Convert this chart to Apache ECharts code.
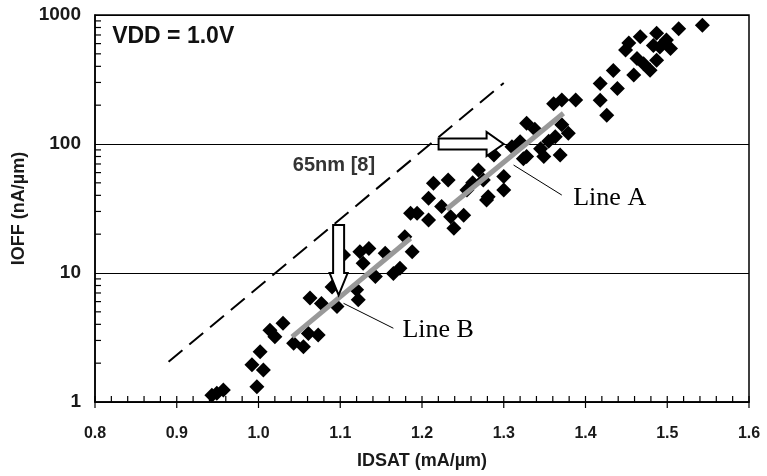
<!DOCTYPE html>
<html>
<head>
<meta charset="utf-8">
<script src="https://cdn.jsdelivr.net/npm/echarts@6/dist/echarts.min.js"></script>
<style>
  html, body { margin: 0; padding: 0; background: #fff; }
  #chart { width: 767px; height: 476px; }
</style>
</head>
<body>
<div id="chart"></div>
<script>
// 測量數據 IDSAT (mA/um) vs IOFF (nA/um)
const idsat = [0.943, 0.949, 0.957, 0.998, 0.992, 1.006, 1.002, 1.014, 1.020, 1.030,
    1.043, 1.055, 1.061, 1.073, 1.063, 1.077, 1.090, 1.096, 1.104, 1.120,
    1.122, 1.124, 1.135, 1.128, 1.143, 1.155, 1.165, 1.173, 1.179, 1.188,
    1.186, 1.194, 1.208, 1.208, 1.214, 1.232, 1.224, 1.239, 1.235, 1.251,
    1.255, 1.262, 1.269, 1.275, 1.279, 1.281, 1.288, 1.300, 1.300, 1.310,
    1.320, 1.324, 1.328, 1.328, 1.338, 1.345, 1.349, 1.355, 1.369, 1.363,
    1.379, 1.371, 1.361, 1.371, 1.388, 1.418, 1.426, 1.418, 1.439, 1.434,
    1.449, 1.453, 1.459, 1.463, 1.467, 1.471, 1.479, 1.487, 1.483, 1.487,
    1.491, 1.499, 1.504, 1.514, 1.543];
const ioff = [1.13, 1.17, 1.24, 1.31, 1.94, 1.77, 2.45, 3.6, 3.2, 4.07,
    2.85, 2.68, 3.4, 3.3, 6.4, 5.8, 7.8, 5.5, 13.8, 7.4,
    6.2, 14.6, 15.5, 11.9, 9.4, 14.2, 9.9, 10.9, 19.1, 14.6,
    29, 29, 25.7, 38, 49.6, 52.6, 32.7, 22.2, 27.3, 28,
    44, 50, 63, 52.6, 36.8, 39, 82, 44, 56, 95,
    104, 77, 80, 145, 130, 92, 80, 105, 82, 114,
    121, 141, 205, 219, 219, 218, 167, 295, 269, 372,
    535, 606, 343, 460, 678, 419, 373, 445, 580, 723,
    566, 640, 550, 783, 834];

// 參考線
const line65nmX = [0.89, 1.30];
const line65nmY = [2.05, 297];
const lineAX = [1.230, 1.373];
const lineAY = [31.2, 173];
const lineBX = [1.041, 1.186];
const lineBY = [3.2, 18.6];

// 刻度
const xTickVals = [0.8, 0.9, 1.0, 1.1, 1.2, 1.3, 1.4, 1.5, 1.6];
const xMinorVals = [0.82, 0.84, 0.86, 0.88, 0.92, 0.94, 0.96, 0.98, 1.02, 1.04, 1.06, 1.08,
    1.12, 1.14, 1.16, 1.18, 1.22, 1.24, 1.26, 1.28, 1.32, 1.34, 1.36, 1.38,
    1.42, 1.44, 1.46, 1.48, 1.52, 1.54, 1.56, 1.58];
const yMinorVals = [2, 3, 4, 5, 6, 7, 8, 9, 20, 30, 40, 50, 60, 70, 80, 90,
    200, 300, 400, 500, 600, 700, 800, 900];

const labelFont = 'Liberation Sans, Arial, sans-serif';
const serifFont = 'Liberation Serif, Times New Roman, serif';

const chart = echarts.init(document.getElementById('chart'));

function arrowDown(tip) {
    // 空心向下箭頭
    const [x, y] = tip;
    return [[x - 5.5, y - 70], [x + 5.5, y - 70], [x + 5.5, y - 22], [x + 9, y - 22],
        [x, y], [x - 9, y - 22], [x - 5.5, y - 22]];
}
function arrowRight(tip) {
    const [x, y] = tip;
    return [[x - 65, y - 5.5], [x - 17, y - 5.5], [x - 17, y - 12], [x, y],
        [x - 17, y + 12], [x - 17, y + 5.5], [x - 65, y + 5.5]];
}

// 刻度線 custom series
function tickSeries(vals, dx1, dy1, dx2, dy2) {
    return {
        type: 'custom', silent: true, z: 3, clip: false,
        data: vals,
        renderItem: (params, api) => {
            const p = api.coord([api.value(0), api.value(1)]);
            return { type: 'line',
                shape: { x1: p[0] + dx1, y1: p[1] + dy1, x2: p[0] + dx2, y2: p[1] + dy2 },
                style: { stroke: '#000', lineWidth: 1.2 } };
        }
    };
}

chart.setOption({
    animation: false,
    grid: { left: 95, right: 18, top: 15, bottom: 74, show: true, borderColor: '#000', borderWidth: 1.5 },
    xAxis: {
        type: 'value', min: 0.8, max: 1.6, interval: 0.1,
        name: 'IDSAT (mA/\u00b5m)', nameLocation: 'middle', nameGap: 50,
        nameTextStyle: { fontFamily: labelFont, fontSize: 18, fontWeight: 'bold', color: '#1a1a1a' },
        axisLine: { lineStyle: { color: '#000', width: 1.5 } },
        axisTick: { show: false },
        splitLine: { show: false },
        axisLabel: {
            margin: 24, fontFamily: labelFont, fontSize: 16, fontWeight: 'bold', color: '#1a1a1a',
            formatter: v => v.toFixed(1)
        }
    },
    yAxis: {
        type: 'log', logBase: 10, min: 1, max: 1000,
        name: 'IOFF (nA/\u00b5m)', nameLocation: 'middle', nameGap: 56,
        nameTextStyle: { fontFamily: labelFont, fontSize: 18, fontWeight: 'bold', color: '#1a1a1a' },
        axisLine: { lineStyle: { color: '#000', width: 1.5 } },
        axisTick: { inside: true, length: 6, lineStyle: { color: '#000' } },
        splitLine: { show: true, lineStyle: { color: '#000', width: 1 } },
        axisLabel: {
            margin: 14, fontFamily: labelFont, fontSize: 19, fontWeight: 'bold', color: '#1a1a1a',
            formatter: v => String(Math.round(v))
        }
    },
    series: [
        tickSeries(yMinorVals.map(v => [0.8, v]), 0, 0, 6, 0),
        tickSeries(xTickVals.map(v => [v, 1]), 0, -6, 0, 6),
        tickSeries(xMinorVals.map(v => [v, 1]), 0, -6, 0, 0),
        {
            type: 'scatter', symbol: 'diamond', symbolSize: 15, z: 4,
            itemStyle: { color: '#000', opacity: 1 },
            data: idsat.map((x, i) => [x, ioff[i]])
        },
        {
            type: 'line', z: 5, symbol: 'none',
            lineStyle: { color: '#000', width: 2, type: [18, 9] },
            data: line65nmX.map((x, i) => [x, line65nmY[i]])
        },
        {
            type: 'line', z: 6, symbol: 'none',
            lineStyle: { color: '#999', width: 5 },
            data: lineAX.map((x, i) => [x, lineAY[i]])
        },
        {
            type: 'line', z: 6, symbol: 'none',
            lineStyle: { color: '#999', width: 5 },
            data: lineBX.map((x, i) => [x, lineBY[i]])
        },
        {
            // 標註：箭頭、引線、文字
            type: 'custom', silent: true, z: 8, clip: false,
            data: [[0.8, 1]],
            renderItem: (params, api) => {
                const c = (x, y) => api.coord([x, y]);
                const la0 = c(1.312, 68.7), la1 = c(1.371, 40.2);
                const lb0 = c(1.104, 5.82), lb1 = c(1.165, 3.73);
                const txt = (pos, text, font, fill) => ({
                    type: 'text', x: pos[0], y: pos[1],
                    style: { text: text, font: font, fill: fill, verticalAlign: 'middle', align: 'left' }
                });
                return {
                    type: 'group',
                    children: [
                        { type: 'line', shape: { x1: la0[0], y1: la0[1], x2: la1[0], y2: la1[1] },
                          style: { stroke: '#000', lineWidth: 1 } },
                        { type: 'line', shape: { x1: lb0[0], y1: lb0[1], x2: lb1[0], y2: lb1[1] },
                          style: { stroke: '#000', lineWidth: 1 } },
                        { type: 'polygon', shape: { points: arrowDown(c(1.098, 6.75)) },
                          style: { fill: '#fff', stroke: '#000', lineWidth: 2 } },
                        { type: 'polygon', shape: { points: arrowRight(c(1.2998, 100)) },
                          style: { fill: '#fff', stroke: '#000', lineWidth: 2 } },
                        txt(c(1.385, 38.1), 'Line A', '26px ' + serifFont, '#000'),
                        txt(c(1.176, 3.61), 'Line B', '26px ' + serifFont, '#000'),
                        txt(c(1.042, 68.7), '65nm [8]', 'bold 20px ' + labelFont, '#333'),
                        txt(c(0.821, 675), 'VDD = 1.0V', 'bold 23px ' + labelFont, '#111')
                    ]
                };
            }
        }
    ]
});
</script>
</body>
</html>
